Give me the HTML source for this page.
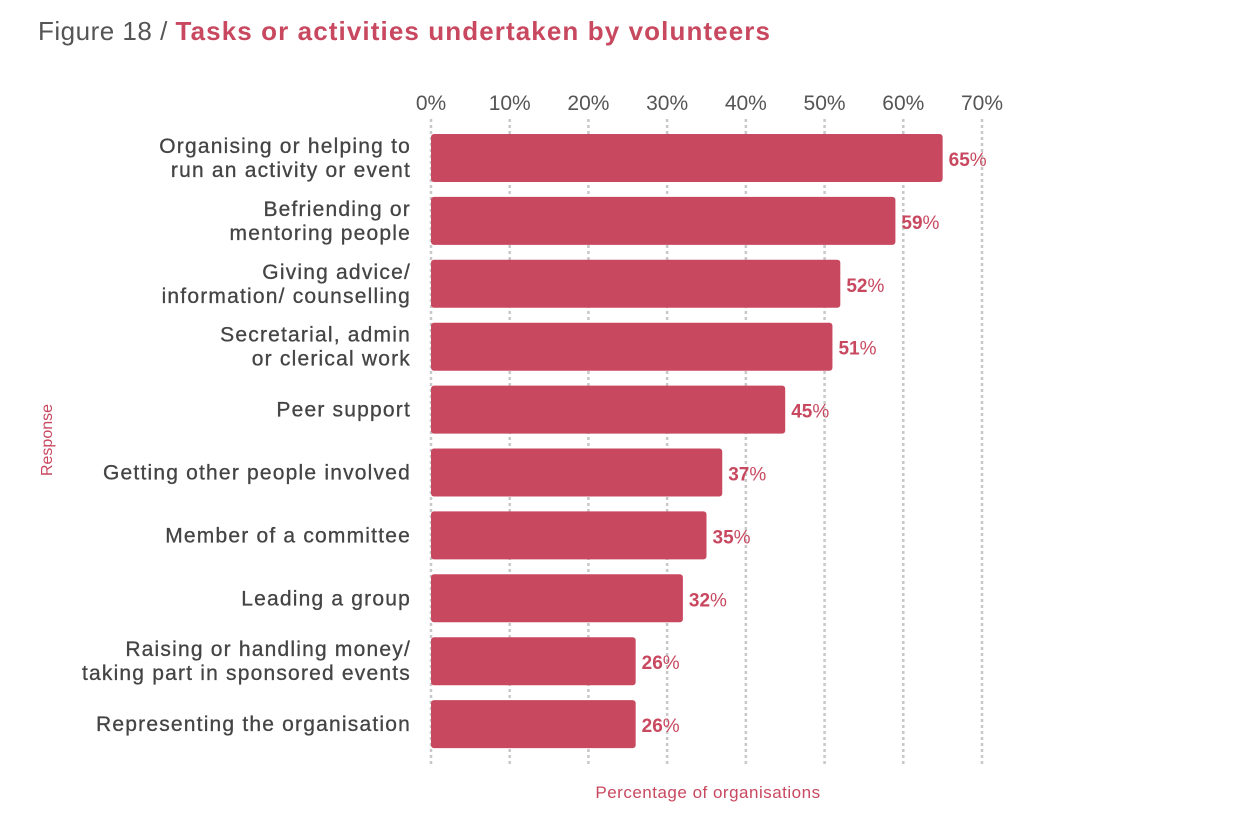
<!DOCTYPE html>
<html><head><meta charset="utf-8"><style>
body{margin:0;background:#fff;width:1247px;height:825px;overflow:hidden}
svg text{font-family:"Liberation Sans",sans-serif}
</style></head><body>
<svg id="c" width="1247" height="825">
<text x="38" y="40" font-size="26" fill="#555"><tspan letter-spacing="0.5">Figure 18 / </tspan><tspan fill="#c8485f" font-weight="bold" letter-spacing="1.1">Tasks or activities undertaken by volunteers</tspan></text>
<text x="708" y="798" font-size="17" letter-spacing="0.5" fill="#c8485f" text-anchor="middle">Percentage of organisations</text>
<text transform="translate(52,440) rotate(-90)" font-size="16" fill="#c8485f" text-anchor="middle">Response</text>
<g id="g"></g>
</svg>
<script>
const categories=[["Organising or helping  to","run an activity or event"],["Befriending or","mentoring people"],["Giving advice/","information/ counselling"],["Secretarial, admin","or clerical work"],["Peer support"],["Getting other people involved"],["Member of a committee"],["Leading a group"],["Raising or handling money/","taking part in sponsored events"],["Representing the organisation"]];
const values=[65,59,52,51,45,37,35,32,26,26];
const ticks=[0,10,20,30,40,50,60,70];
const NS="http://www.w3.org/2000/svg",g=document.getElementById('g');
const x=v=>431+v*(982-431)/70;
const y=i=>158+i*62.9;
function mk(t,a,p){const e=document.createElementNS(NS,t);for(const k in a)e.setAttribute(k,a[k]);(p||g).appendChild(e);return e;}
ticks.forEach(t=>{
 const l=mk('line',{x1:x(t),x2:x(t),y1:119,y2:766,stroke:'#c8c8c8','stroke-width':2.5,'stroke-dasharray':'3,3'});
 
 
 const tx=mk('text',{x:x(t),y:110,'font-size':21,fill:'#555','text-anchor':'middle'});tx.textContent=t+'%';
 
 
});
values.forEach((v,i)=>{
 const r=mk('rect',{x:x(0),y:y(i)-24,width:x(v)-x(0),height:48,rx:3,fill:'#c8485f'});
 
 
 const t=mk('text',{x:x(v)+6,y:y(i)+8,'font-size':19,fill:'#c8485f','font-weight':'bold'});t.textContent=v;
 const s=mk('tspan',{'font-weight':'normal'},t);s.textContent='%';
 
 
 const L=categories[i];
 L.forEach((ln,j)=>{
  const c=mk('text',{x:411,y:y(i)+7+(j-(L.length-1)/2)*24,'font-size':21,fill:'#444','text-anchor':'end','letter-spacing':1.2,stroke:'#444','stroke-width':0.3});c.textContent=ln;
  
  
 });
});
</script>
</body></html>
